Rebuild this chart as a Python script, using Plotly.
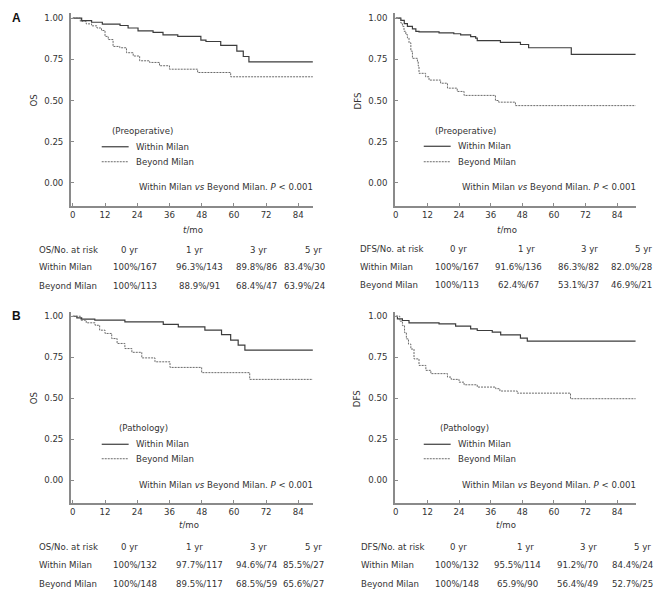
import plotly.graph_objects as go

# page body adds an 8px margin; the figure is sized so it fits the 670x600 window
OFF = 8
W, H = 670 - OFF, 600 - OFF
FONT = "DejaVu Sans, Verdana, sans-serif"
TXT = "#333333"
FS = 8.6

# ---------------- data ----------------
# A: preoperative, OS
os_pre_within_t = [0, 3.3, 7, 11, 17.6, 20.6, 24.3, 29.9, 33.6, 39.1, 47.7, 49.6, 55.1, 61.1, 63.5, 65.6, 89.4]
os_pre_within_s = [1.0, 0.985, 0.975, 0.963, 0.955, 0.94, 0.923, 0.913, 0.898, 0.889, 0.867, 0.858, 0.834, 0.80, 0.767, 0.735, 0.735]
os_pre_beyond_t = [0, 2.8, 5, 7, 9, 10.7, 12, 13.2, 15, 17.5, 20, 22.5, 24.9, 28.6, 32.3, 36, 46.5, 58.8, 89.4]
os_pre_beyond_s = [1.0, 0.98, 0.965, 0.953, 0.94, 0.925, 0.889, 0.87, 0.828, 0.82, 0.79, 0.77, 0.741, 0.731, 0.711, 0.69, 0.670, 0.644, 0.644]
# A: preoperative, DFS
dfs_pre_within_t = [0, 1.9, 3.2, 4.4, 6.3, 7.6, 8.8, 16.4, 22, 24.6, 28.4, 30.3, 30.9, 39.7, 47.3, 50.4, 66.6, 91]
dfs_pre_within_s = [1.0, 0.986, 0.966, 0.95, 0.935, 0.92, 0.916, 0.91, 0.905, 0.898, 0.888, 0.878, 0.863, 0.853, 0.84, 0.82, 0.78, 0.78]
dfs_pre_beyond_t = [0, 1.9, 2.5, 3.1, 3.8, 4.4, 5, 5.7, 6.3, 8.2, 8.5, 8.8, 11.3, 12.6, 17, 19.6, 23.3, 25.9, 37.8, 39, 45.4, 91]
dfs_pre_beyond_s = [1.0, 0.97, 0.95, 0.92, 0.90, 0.88, 0.85, 0.80, 0.756, 0.735, 0.71, 0.665, 0.644, 0.624, 0.605, 0.575, 0.555, 0.531, 0.50, 0.49, 0.469, 0.469]
# B: pathology, OS
os_path_within_t = [0, 1.5, 3.3, 8.2, 19.4, 33.7, 39.3, 49.2, 55.4, 58.8, 61.6, 64.1, 89.4]
os_path_within_s = [1.0, 0.99, 0.982, 0.976, 0.966, 0.95, 0.935, 0.915, 0.888, 0.855, 0.824, 0.793, 0.793]
os_path_beyond_t = [0, 2.9, 5, 8.3, 10, 12, 14.5, 16.5, 19.4, 22, 25.7, 30.6, 36.2, 48, 65.9, 89.4]
os_path_beyond_s = [1.0, 0.976, 0.96, 0.945, 0.915, 0.895, 0.864, 0.834, 0.803, 0.78, 0.746, 0.722, 0.688, 0.656, 0.615, 0.615]
# B: pathology, DFS
dfs_path_within_t = [0, 0.6, 2.5, 5, 16.4, 22.7, 28.4, 30.9, 36.6, 39.8, 47.3, 49.9, 91]
dfs_path_within_s = [1.0, 0.984, 0.974, 0.96, 0.953, 0.94, 0.923, 0.913, 0.903, 0.886, 0.866, 0.848, 0.848]
dfs_path_beyond_t = [0, 1.5, 2.5, 3.3, 4, 4.8, 5.7, 6.9, 8.8, 11.4, 13.3, 19.6, 21, 24, 25.9, 30.9, 37.9, 39.5, 46.1, 66.3, 91]
dfs_path_beyond_s = [1.0, 0.97, 0.943, 0.90, 0.862, 0.83, 0.80, 0.74, 0.70, 0.67, 0.65, 0.629, 0.615, 0.598, 0.582, 0.568, 0.558, 0.544, 0.531, 0.497, 0.497]

# tables
col_headers = ["0 yr", "1 yr", "3 yr", "5 yr"]
row_labels = ["Within Milan", "Beyond Milan"]
os_pre_within_tab = ["100%/167", "96.3%/143", "89.8%/86", "83.4%/30"]
os_pre_beyond_tab = ["100%/113", "88.9%/91", "68.4%/47", "63.9%/24"]
dfs_pre_within_tab = ["100%/167", "91.6%/136", "86.3%/82", "82.0%/28"]
dfs_pre_beyond_tab = ["100%/113", "62.4%/67", "53.1%/37", "46.9%/21"]
os_path_within_tab = ["100%/132", "97.7%/117", "94.6%/74", "85.5%/27"]
os_path_beyond_tab = ["100%/148", "89.5%/117", "68.5%/59", "65.6%/27"]
dfs_path_within_tab = ["100%/132", "95.5%/114", "91.2%/70", "84.4%/24"]
dfs_path_beyond_tab = ["100%/148", "65.9%/90", "56.4%/49", "52.7%/25"]

x_ticks = [0, 12, 24, 36, 48, 60, 72, 84]
y_ticks = [0, 0.25, 0.5, 0.75, 1.0]
y_ticktext = ["0.00", "0.25", "0.50", "0.75", "1.00"]

WITHIN_STYLE = dict(color="#3c3c3c", width=1.2)
BEYOND_STYLE = dict(color="#6a6a6a", width=1, dash="2px,1px")


def X(px):
    return (px - OFF) / W


def Y(py):
    return 1 - (py - OFF) / H


panels = [
    dict(sfx="", dom_x=(69, 312), dom_y=(12.5, 205), xr=[-0.74, 89.5], yr=[-0.138, 1.028],
         ytitle="OS", ytitle_x=32, xtitle_xy=(192, 229), legtitle="(Preoperative)",
         leg_title_xy=(108, 130), leg_line_x=(100, 127), leg_text_x=132, leg_item_y=(146, 161),
         p_xy=(135, 186), tab_y=(249, 266.5, 285.5), tab_lab_x=35,
         hdr_x=[128, 193, 257, 312], val_x=[133, 198, 255, 303], tab_title="OS/No. at risk",
         within=(os_pre_within_t, os_pre_within_s), beyond=(os_pre_beyond_t, os_pre_beyond_s),
         tab=(os_pre_within_tab, os_pre_beyond_tab)),
    dict(sfx="2", dom_x=(394, 636), dom_y=(12.5, 205), xr=[-0.38, 91.2], yr=[-0.138, 1.028],
         ytitle="DFS", ytitle_x=357, xtitle_xy=(507, 229), legtitle="(Preoperative)",
         leg_title_xy=(432, 130), leg_line_x=(423, 450), leg_text_x=455, leg_item_y=(145.5, 161),
         p_xy=(459, 186), tab_y=(248.5, 266, 284.5), tab_lab_x=357,
         hdr_x=[458, 526, 589, 643], val_x=[456, 518, 578, 631], tab_title="DFS/No. at risk",
         within=(dfs_pre_within_t, dfs_pre_within_s), beyond=(dfs_pre_beyond_t, dfs_pre_beyond_s),
         tab=(dfs_pre_within_tab, dfs_pre_beyond_tab)),
    dict(sfx="3", dom_x=(69, 312), dom_y=(311.5, 503), xr=[-0.74, 89.5], yr=[-0.14, 1.026],
         ytitle="OS", ytitle_x=32, xtitle_xy=(187.5, 525), legtitle="(Pathology)",
         leg_title_xy=(115, 428), leg_line_x=(100, 127), leg_text_x=132, leg_item_y=(444, 458.5),
         p_xy=(135, 484.5), tab_y=(547, 565, 583.5), tab_lab_x=35,
         hdr_x=[128, 193, 257, 312], val_x=[133, 198, 255, 302], tab_title="OS/No. at risk",
         within=(os_path_within_t, os_path_within_s), beyond=(os_path_beyond_t, os_path_beyond_s),
         tab=(os_path_within_tab, os_path_beyond_tab)),
    dict(sfx="4", dom_x=(394, 636), dom_y=(311.5, 503), xr=[-0.38, 91.2], yr=[-0.14, 1.026],
         ytitle="DFS", ytitle_x=356, xtitle_xy=(505.5, 525), legtitle="(Pathology)",
         leg_title_xy=(437, 428), leg_line_x=(423, 450), leg_text_x=455, leg_item_y=(444, 458.5),
         p_xy=(459, 484.5), tab_y=(547, 565, 583.5), tab_lab_x=358,
         hdr_x=[458, 525, 588, 642], val_x=[456, 517, 577, 632], tab_title="DFS/No. at risk",
         within=(dfs_path_within_t, dfs_path_within_s), beyond=(dfs_path_beyond_t, dfs_path_beyond_s),
         tab=(dfs_path_within_tab, dfs_path_beyond_tab)),
]

fig = go.Figure()
annotations = []
shapes = []
layout = dict(
    width=W, height=H, margin=dict(l=0, r=0, t=0, b=0),
    paper_bgcolor="white", plot_bgcolor="white",
    font=dict(family=FONT, size=FS, color=TXT),
    showlegend=False,
)

tfont = dict(family=FONT, size=FS, color=TXT)


def text(t, x, y, xanchor="left", **kw):
    d = dict(text=t, xref="paper", yref="paper", x=x, y=y, showarrow=False, font=tfont,
             xanchor=xanchor, yanchor="middle")
    d.update(kw)
    return d


for p in panels:
    xa = "x" + p["sfx"]
    ya = "y" + p["sfx"]
    fig.add_trace(go.Scatter(
        x=p["within"][0], y=p["within"][1], mode="lines", name="Within Milan",
        line=dict(shape="hv", **WITHIN_STYLE), xaxis=xa, yaxis=ya, hoverinfo="skip"))
    fig.add_trace(go.Scatter(
        x=p["beyond"][0], y=p["beyond"][1], mode="lines", name="Beyond Milan",
        line=dict(shape="hv", **BEYOND_STYLE), xaxis=xa, yaxis=ya, hoverinfo="skip"))

    axcommon = dict(showline=True, linecolor="#8a8a8a", linewidth=1.5, ticks="inside",
                    ticklen=3, tickwidth=1, tickcolor="#8a8a8a", showgrid=False,
                    zeroline=False, tickfont=tfont, mirror=False)
    layout["xaxis" + p["sfx"]] = dict(
        axcommon, domain=[X(p["dom_x"][0]), X(p["dom_x"][1])], range=p["xr"],
        tickvals=x_ticks, anchor=ya)
    layout["yaxis" + p["sfx"]] = dict(
        axcommon, domain=[Y(p["dom_y"][1]), Y(p["dom_y"][0])], range=p["yr"],
        tickvals=y_ticks, ticktext=y_ticktext, anchor=xa, ticklabelstandoff=4)

    # x-axis title
    annotations.append(text("<i>t</i>/mo", X(p["xtitle_xy"][0]), Y(p["xtitle_xy"][1]),
                            xanchor="center"))

    # in-plot legend (sample lines + labels)
    annotations.append(text(p["legtitle"], X(p["leg_title_xy"][0]), Y(p["leg_title_xy"][1])))
    for name, style, iy in [("Within Milan", WITHIN_STYLE, p["leg_item_y"][0]),
                            ("Beyond Milan", BEYOND_STYLE, p["leg_item_y"][1])]:
        shapes.append(dict(type="line", xref="paper", yref="paper",
                           x0=X(p["leg_line_x"][0]), x1=X(p["leg_line_x"][1]),
                           y0=Y(iy), y1=Y(iy), line=style))
        annotations.append(text(name, X(p["leg_text_x"]), Y(iy)))

    # y-axis title
    annotations.append(dict(text=p["ytitle"], xref="paper", yref=ya, x=X(p["ytitle_x"]), y=0.5,
                            textangle=-90, showarrow=False, font=tfont,
                            xanchor="center", yanchor="middle"))
    # p-value text
    annotations.append(text("Within Milan <i>vs</i> Beyond Milan. <i>P</i> &lt; 0.001",
                            X(p["p_xy"][0]), Y(p["p_xy"][1])))
    # table
    ty = p["tab_y"]
    annotations.append(text(p["tab_title"], X(p["tab_lab_x"]), Y(ty[0])))
    for hx, h in zip(p["hdr_x"], col_headers):
        annotations.append(text(h, X(hx), Y(ty[0]), xanchor="center"))
    for ri, (lab, vals) in enumerate(zip(row_labels, p["tab"])):
        annotations.append(text(lab, X(p["tab_lab_x"]), Y(ty[ri + 1])))
        for vx, v in zip(p["val_x"], vals):
            annotations.append(text(v, X(vx), Y(ty[ri + 1]), xanchor="center"))

# panel letters
for letter, py in [("A", 17), ("B", 316)]:
    annotations.append(text("<b>%s</b>" % letter, X(15), Y(py), xanchor="center",
                            font=dict(family="Liberation Sans, Arial, sans-serif", size=12,
                                      color="#111111")))

layout["annotations"] = annotations
layout["shapes"] = shapes
fig.update_layout(**layout)
fig.write_html("out.html")
